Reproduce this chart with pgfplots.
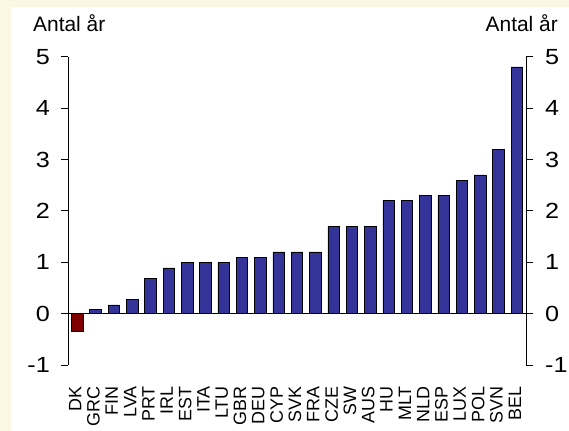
\documentclass[border=0pt]{standalone}
\usepackage{pgfplots}
\pgfplotsset{compat=1.18}
\usepackage{fontspec}
\setmainfont{Liberation Sans}
\definecolor{cream}{RGB}{250,248,226}
\definecolor{barblue}{RGB}{51,51,153}
\definecolor{barred}{RGB}{128,0,0}
\newcommand\xl[1]{#1}
\newcommand\yl[1]{\scalebox{1.15}[1]{#1}}
\pgfplotsset{
  common/.style={
    at={(68bp,66bp)}, anchor=south west,
    scale only axis, width=458bp, height=308.3bp,
    xmin=-0.5, xmax=24.5, ymin=-1, ymax=5,
    ytick={-1,0,...,5},
    tick align=outside, major tick length=7bp,
    every tick/.style={black, line width=0.8bp},
    axis line style={line width=0.8bp},
    yticklabel style={font=\fontsize{22}{22}\selectfont, inner sep=0pt},
    yticklabel={\yl{\pgfmathprintnumber[assume math mode=true]{\tick}}},
  }
}
\begin{document}
\begin{tikzpicture}
\fill[cream] (0,0) rectangle (569bp,431bp);
\fill[white] (11bp,0) rectangle (569bp,423.5bp);
\begin{axis}[common,
  axis y line*=left, axis x line*=bottom,
  x axis line style={draw=none},
  xtick={0,...,24},
  xtick style={draw=none},
  xticklabels={\xl{DK},\xl{GRC},\xl{FIN},\xl{LVA},\xl{PRT},\xl{IRL},\xl{EST},\xl{ITA},\xl{LTU},\xl{GBR},\xl{DEU},\xl{CYP},\xl{SVK},\xl{FRA},\xl{CZE},\xl{SW},\xl{AUS},\xl{HU},\xl{MLT},\xl{NLD},\xl{ESP},\xl{LUX},\xl{POL},\xl{SVN},\xl{BEL}},
  xticklabel style={rotate=90, anchor=east, inner sep=0pt, font=\fontsize{18}{18}\selectfont, xshift=-14bp, yshift=2bp},
  yticklabel style={xshift=-11bp},
  extra y ticks={0}, extra y tick labels={},
  extra y tick style={grid=major, major grid style={black, line width=0.8bp}},
  ybar, bar width=11.5bp, bar shift=0pt,
]
\addplot[fill=barred, draw=black, line width=0.6bp] coordinates {(0,-0.34)};
\addplot[fill=barblue, draw=black, line width=0.6bp] coordinates {
(1,0.08) (2,0.17) (3,0.28) (4,0.68) (5,0.89) (6,1.0) (7,1.0) (8,1.0)
(9,1.09) (10,1.09) (11,1.2) (12,1.2) (13,1.2) (14,1.7) (15,1.7) (16,1.7)
(17,2.2) (18,2.2) (19,2.3) (20,2.3) (21,2.6) (22,2.7) (23,3.2) (24,4.8)};
\end{axis}
\begin{axis}[common,
  axis y line*=right, axis x line=none,
  yticklabel style={xshift=12bp},
]
\end{axis}
\node[anchor=base west, inner sep=0pt, font=\fontsize{21}{21}\selectfont] at (33bp,399bp) {Antal år};
\node[anchor=base east, inner sep=0pt, font=\fontsize{21}{21}\selectfont] at (558bp,399bp) {Antal år};
\pgfresetboundingbox
\useasboundingbox (0,0) rectangle (569bp,431bp);
\end{tikzpicture}
\end{document}
